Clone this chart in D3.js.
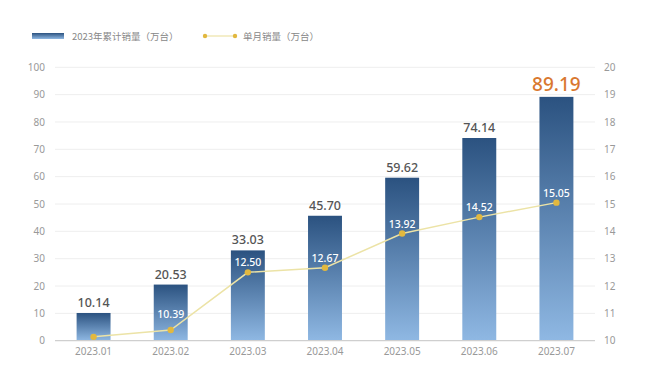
<!DOCTYPE html>
<html><head><meta charset="utf-8">
<script src="https://cdn.jsdelivr.net/npm/d3@7"></script>
<style>body{margin:0;background:#fff;}svg{display:block;font-family:"Noto Sans CJK SC","Noto Sans",sans-serif;}</style>
</head><body>
<svg id="c" width="663" height="373"></svg>
<script>
const months = ["2023.01","2023.02","2023.03","2023.04","2023.05","2023.06","2023.07"];
const cumulative = [10.14,20.53,33.03,45.70,59.62,74.14,89.19];
const monthly = [10.14,10.39,12.50,12.67,13.92,14.52,15.05];
const leftTicks = [0,10,20,30,40,50,60,70,80,90,100];
const rightTicks = [10,11,12,13,14,15,16,17,18,19,20];
const legendLabels = ["2023年累计销量（万台）","单月销量（万台）"];

const svg = d3.select("#c");
const x0 = 55, x1 = 595, yTop = 67.3, yBot = 340.7;
const x = d3.scaleBand().domain(months).range([x0,x1]).paddingInner(0.56).paddingOuter(0.28);
const yL = d3.scaleLinear().domain([0,100]).range([yBot,yTop]);
const yR = d3.scaleLinear().domain([10,20]).range([yBot,yTop]);

const defs = svg.append("defs");
const g = defs.append("linearGradient").attr("id","bg").attr("x1",0).attr("y1",0).attr("x2",0).attr("y2",1);
g.append("stop").attr("offset","0%").attr("stop-color","#2b5280");
g.append("stop").attr("offset","100%").attr("stop-color","#8fb8e3");

// grid
svg.append("g").selectAll("line").data(leftTicks.slice(1)).join("line")
  .attr("x1",x0).attr("x2",x1).attr("y1",d=>yL(d)).attr("y2",d=>yL(d))
  .attr("stroke","#eeeeee").attr("stroke-width",1);

const tickFont = sel => sel.attr("fill","#999").attr("font-size",10).attr("font-family","Noto Sans, sans-serif");

// left axis
const axL = svg.append("g").attr("transform",`translate(${x0},0)`)
  .call(d3.axisLeft(yL).tickValues(leftTicks).tickSize(0).tickPadding(10));
axL.select(".domain").remove();
axL.selectAll("text").call(tickFont);

// right axis
const axR = svg.append("g").attr("transform",`translate(${x1},0)`)
  .call(d3.axisRight(yR).tickValues(rightTicks).tickSize(0).tickPadding(9));
axR.select(".domain").remove();
axR.selectAll("text").call(tickFont);

// bars
svg.append("g").selectAll("rect").data(cumulative).join("rect")
  .attr("x",(d,i)=>x(months[i])).attr("width",x.bandwidth())
  .attr("y",d=>yL(d)).attr("height",d=>yBot-yL(d))
  .attr("fill","url(#bg)");

// baseline
svg.append("line").attr("x1",x0).attr("x2",x1).attr("y1",yBot).attr("y2",yBot)
  .attr("stroke","#cfcfcf").attr("stroke-width",1.2);

// x axis
const axB = svg.append("g").attr("transform",`translate(0,${yBot})`)
  .call(d3.axisBottom(x).tickSize(0).tickPadding(7));
axB.select(".domain").remove();
axB.selectAll("text").call(tickFont);

// bar labels
svg.append("g").selectAll("text").data(cumulative).join("text")
  .attr("x",(d,i)=>x(months[i])+x.bandwidth()/2)
  .attr("y",(d,i)=>yL(d)-6)
  .attr("text-anchor","middle")
  .attr("font-family","Noto Sans, sans-serif")
  .attr("font-weight",500)
  .attr("font-size",(d,i)=>i===6?19:12.5)
  .attr("fill",(d,i)=>i===6?"#d9782f":"#555")
  .text(d=>d.toFixed(2));

// line
const cx = i => x(months[i])+x.bandwidth()/2;
svg.append("path").datum(monthly)
  .attr("d",d3.line().x((d,i)=>cx(i)).y(d=>yR(d)))
  .attr("fill","none").attr("stroke","#ece3a6").attr("stroke-width",1.5);
svg.append("g").selectAll("circle").data(monthly).join("circle")
  .attr("cx",(d,i)=>cx(i)).attr("cy",d=>yR(d)).attr("r",3.2).attr("fill","#e2b83f");
svg.append("g").selectAll("text").data(monthly.slice(1)).join("text")
  .attr("x",(d,i)=>cx(i+1)).attr("y",(d,i)=>yR(d)-(i===0?12:6))
  .attr("text-anchor","middle")
  .attr("font-family","Noto Sans, sans-serif").attr("font-weight",500)
  .attr("font-size",10.5).attr("fill","#ffffff")
  .text(d=>d.toFixed(2));

// legend
svg.append("rect").attr("x",32).attr("y",33).attr("width",32).attr("height",6).attr("fill","url(#bg)");
svg.append("text").attr("x",72).attr("y",40).attr("font-size",9.5).attr("fill","#888").text(legendLabels[0]);
svg.append("line").attr("x1",205).attr("x2",235).attr("y1",36).attr("y2",36).attr("stroke","#ece3a6").attr("stroke-width",1.2);
[205,235].forEach(px=>svg.append("circle").attr("cx",px).attr("cy",36).attr("r",2.2).attr("fill","#e2b83f"));
svg.append("text").attr("x",243).attr("y",40).attr("font-size",9.5).attr("fill","#888").text(legendLabels[1]);
</script>
</body></html>
